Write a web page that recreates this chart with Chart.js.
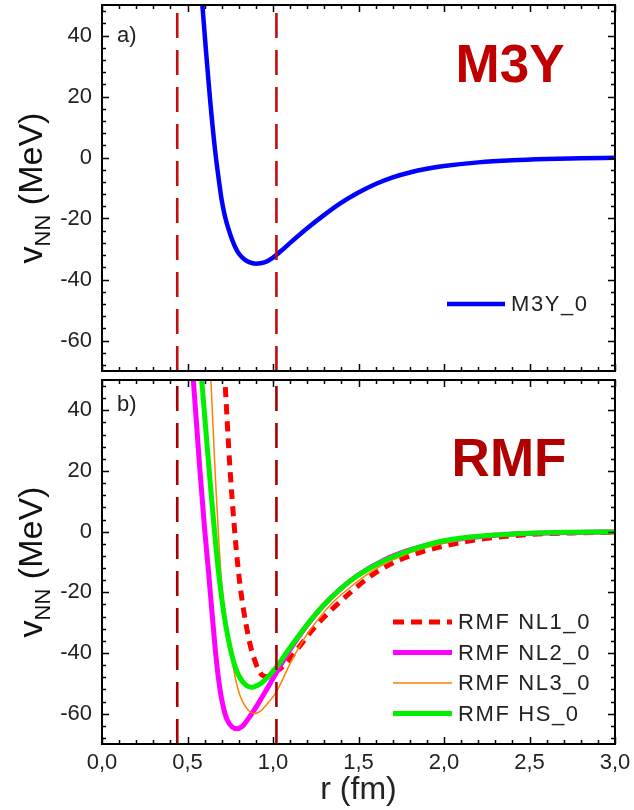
<!DOCTYPE html>
<html>
<head>
<meta charset="utf-8">
<script src="https://cdn.jsdelivr.net/npm/chart.js@4.4.1/dist/chart.umd.min.js"></script>
<style>
  body { margin: 0; background: #fff; }
  #wrap { position: relative; width: 634px; height: 810px; }
  canvas { position: absolute; left: 0; }
  #topPanel { top: 0; }
  #botPanel { top: 376px; }
</style>
</head>
<body>
<div id="wrap">
  <canvas id="topPanel" width="634" height="376" style="width:634px;height:376px"></canvas>
  <canvas id="botPanel" width="634" height="434" style="width:634px;height:434px"></canvas>
</div>
<script>
// ---------- data: NN potential v_NN(r), MeV vs fm ----------
const m3yR = [0.56, 0.589, 0.608, 0.632, 0.661, 0.686, 0.70, 0.72, 0.74, 0.76, 0.78, 0.80, 0.83, 0.86, 0.9, 0.95, 1.0, 1.05, 1.1, 1.2, 1.3, 1.4, 1.5, 1.6, 1.7, 1.8, 1.9, 2.0, 2.2, 2.4, 2.6, 2.8, 3.0];
const m3yV = [65, 48.5, 35, 19, 2.5, -8.5, -14, -19.5, -23.5, -26.8, -29.5, -31.5, -33.3, -34.3, -34.8, -34.4, -32.8, -30.5, -28, -23.2, -18.8, -14.8, -11.5, -8.7, -6.5, -4.9, -3.7, -2.8, -1.6, -0.9, -0.5, -0.25, -0.12];

const nl1R = [0.7, 0.719, 0.749, 0.797, 0.856, 0.9, 0.934, 0.97, 1.0, 1.058, 1.1, 1.247, 1.45, 1.6, 1.767, 2.0, 2.24, 2.48, 2.75, 3.0];
const nl1V = [70, 50, 20.3, -12.6, -34.6, -43.5, -47.2, -47.8, -46.8, -44.5, -41.8, -31.3, -20.2, -13.5, -8.7, -4.75, -2.3, -1.0, -0.4, -0.2];

const nl2R = [0.52, 0.534, 0.573, 0.6, 0.622, 0.65, 0.67, 0.69, 0.71, 0.73, 0.76, 0.787, 0.82, 0.86, 0.91, 0.96, 1.016, 1.1, 1.2, 1.3, 1.4, 1.5, 1.65, 1.8, 2.0, 2.25, 2.5, 2.75, 3.0];
const nl2V = [62, 50, 20, 1, -12.6, -31, -43, -52, -58, -61.8, -64.3, -65, -64.2, -61.3, -57, -52.3, -46.8, -38.8, -30.8, -24, -18.6, -14.2, -9.3, -6, -3.2, -1.4, -0.6, -0.25, -0.1];

const nl3R = [0.63, 0.637, 0.661, 0.694, 0.715, 0.739, 0.778, 0.81, 0.85, 0.89, 0.93, 0.97, 1.018, 1.1, 1.18, 1.255, 1.35, 1.45, 1.6, 1.8, 2.0, 2.25, 2.5, 2.75, 3.0];
const nl3V = [60, 50, 20.3, -12.6, -25, -34.2, -47.8, -54.5, -58.5, -60, -59, -56.5, -53, -43.5, -35.5, -29.5, -23.3, -18.4, -12.3, -7, -3.8, -1.7, -0.7, -0.25, -0.1];

const hsR = [0.57, 0.583, 0.63, 0.68, 0.71, 0.739, 0.778, 0.82, 0.875, 0.93, 1.012, 1.1, 1.2, 1.3, 1.45, 1.6, 1.8, 2.0, 2.25, 2.5, 2.75, 3.0];
const hsV = [60, 50, 18, -12.6, -26, -35.5, -44.5, -49.3, -51.3, -50, -45.2, -38.2, -30.6, -24, -16.3, -11, -6.2, -3, -1.3, -0.5, -0.2, -0.1];

// radii of the two dashed markers
const cutR = [0.44, 1.02];

const xTicks = [0, 0.5, 1, 1.5, 2, 2.5, 3];
const yTicks = [-60, -40, -20, 0, 20, 40];
const X_MIN = 0, X_MAX = 3, Y_MIN = -70, Y_MAX = 50;

const FONT = "'Liberation Sans', Arial, sans-serif";
const pts = (rs, vs) => rs.map((r, i) => ({ x: r, y: vs[i] }));
const comma = (v) => v.toFixed(1).replace(".", ",");

function curve(label, rs, vs, color, width, order, dash) {
  return {
    label, data: pts(rs, vs), borderColor: color, borderWidth: width,
    borderDash: dash || [], showLine: true, pointRadius: 0,
    cubicInterpolationMode: "monotone", order,
  };
}

function cutLines(color) {
  return cutR.map((r) => ({
    label: "", data: [{ x: r, y: Y_MIN }, { x: r, y: Y_MAX }],
    borderColor: color, borderWidth: 2.6, borderDash: [25, 12],
    showLine: true, pointRadius: 0, order: 0,
  }));
}

// ---------- plugins ----------
// closed frame with inward major/minor ticks on all four sides
const frameTicks = {
  id: "frameTicks",
  afterDatasetsDraw(chart) {
    const { ctx, chartArea: a, scales: { x, y } } = chart;
    ctx.save();
    ctx.strokeStyle = "#000";
    ctx.lineWidth = 1.5;
    ctx.beginPath();
    for (let i = 0; i <= 30; i++) {
      const px = Math.round(x.getPixelForValue(X_MIN + i * 0.1)) + 0.5;
      const len = i % 5 === 0 ? 7 : 4;
      ctx.moveTo(px, a.bottom); ctx.lineTo(px, a.bottom - len);
      ctx.moveTo(px, a.top); ctx.lineTo(px, a.top + len);
    }
    for (let v = -68; v <= 48; v += 4) {
      const py = Math.round(y.getPixelForValue(v)) + 0.5;
      const len = v % 20 === 0 ? 7 : 4;
      ctx.moveTo(a.left, py); ctx.lineTo(a.left + len, py);
      ctx.moveTo(a.right, py); ctx.lineTo(a.right - len, py);
    }
    ctx.stroke();
    ctx.lineWidth = 2;
    ctx.strokeRect(a.left, a.top, a.right - a.left, a.bottom - a.top);
    ctx.restore();
  },
};

// rotated "v_NN (MeV)" with subscript
const yTitle = {
  id: "yTitle",
  afterDraw(chart) {
    const { ctx, chartArea: a } = chart;
    const big = `34px ${FONT}`, small = `22px ${FONT}`;
    ctx.save();
    ctx.translate(42, (a.top + a.bottom) / 2);
    ctx.rotate(-Math.PI / 2);
    ctx.fillStyle = "#111";
    ctx.textBaseline = "alphabetic";
    ctx.font = big;
    const w1 = ctx.measureText("v").width;
    const w3 = ctx.measureText(" (MeV)").width;
    ctx.font = small;
    const w2 = ctx.measureText("NN").width;
    let cx = -(w1 + w2 + w3) / 2;
    ctx.font = big; ctx.fillText("v", cx, 0); cx += w1;
    ctx.font = small; ctx.fillText("NN", cx, 8); cx += w2;
    ctx.font = big; ctx.fillText(" (MeV)", cx, 0);
    ctx.restore();
  },
};

// panel tag "a)"/"b)" and the big model name
const panelText = {
  id: "panelText",
  afterDraw(chart, args, o) {
    const { ctx } = chart;
    ctx.save();
    ctx.fillStyle = "#222";
    ctx.font = `22px ${FONT}`;
    ctx.textBaseline = "middle";
    ctx.fillText(o.tag, o.tagX, o.tagY);
    ctx.fillStyle = o.color;
    ctx.font = `bold 53px ${FONT}`;
    ctx.textAlign = "center";
    ctx.textBaseline = "alphabetic";
    ctx.fillText(o.title, o.titleX, o.titleY);
    ctx.restore();
  },
};

// legend drawn inside the plot area from the dataset styles
const inLegend = {
  id: "inLegend",
  afterDraw(chart, args, o) {
    const { ctx } = chart;
    const sets = chart.data.datasets.filter((d) => d.label);
    ctx.save();
    sets.forEach((d, i) => {
      const yy = o.y + i * o.rowH;
      ctx.strokeStyle = d.borderColor;
      ctx.lineWidth = d.borderWidth;
      ctx.setLineDash(d.borderDash.length ? [11, 7] : []);
      ctx.beginPath();
      ctx.moveTo(o.x, yy); ctx.lineTo(o.x + o.lineLen, yy);
      ctx.stroke();
      ctx.setLineDash([]);
      ctx.fillStyle = "#222";
      ctx.font = `22px ${FONT}`;
      ctx.letterSpacing = "1.6px";
      ctx.textBaseline = "middle";
      ctx.fillText(d.label, o.x + o.lineLen + 6, yy + 1);
    });
    ctx.restore();
  },
};

function axes(showX) {
  return {
    x: {
      type: "linear", min: X_MIN, max: X_MAX,
      grid: { display: false, drawTicks: false }, border: { display: false },
      afterBuildTicks: (s) => { s.ticks = xTicks.map((v) => ({ value: v })); },
      ticks: { display: showX, padding: 6, color: "#222", font: { family: FONT, size: 22 }, callback: (v) => comma(v), maxRotation: 0 },
      title: showX ? { display: true, text: "r (fm)", color: "#222", font: { family: FONT, size: 32 }, padding: { top: 0, bottom: 1 } } : { display: false },
      afterFit: (s) => { s.height = showX ? 66 : 0; s.paddingLeft = 0; s.paddingRight = 0; },
    },
    y: {
      type: "linear", min: Y_MIN, max: Y_MAX,
      grid: { display: false, drawTicks: false }, border: { display: false },
      afterBuildTicks: (s) => { s.ticks = yTicks.map((v) => ({ value: v })); },
      ticks: { padding: 10, color: "#222", font: { family: FONT, size: 22 }, callback: (v) => String(v) },
      afterFit: (s) => { s.width = 102; s.paddingTop = 0; s.paddingBottom = 0; },
    },
  };
}

function makeChart(id, datasets, pad, showX, text, legend) {
  return new Chart(document.getElementById(id), {
    type: "scatter",
    data: { datasets },
    options: {
      responsive: false, animation: false,
      layout: { padding: pad },
      scales: axes(showX),
      plugins: { legend: { display: false }, tooltip: { enabled: false }, panelText: text, inLegend: legend },
    },
    plugins: [frameTicks, yTitle, panelText, inLegend],
  });
}

// a) M3Y
makeChart("topPanel",
  [curve("M3Y_0", m3yR, m3yV, "#0000FF", 4.5, 1), ...cutLines("#C40C0C")],
  { top: 5, right: 19, bottom: 5, left: 0 }, false,
  { tag: "a)", tagX: 117, tagY: 36, title: "M3Y", titleX: 510, titleY: 82, color: "#C00000" },
  { x: 447, y: 304, lineLen: 58, rowH: 30 });

// b) RMF parametrisations
makeChart("botPanel",
  [
    curve("RMF NL1_0", nl1R, nl1V, "#FF0000", 5, 4, [10, 7]),
    curve("RMF NL2_0", nl2R, nl2V, "#FF00FF", 5, 3),
    curve("RMF NL3_0", nl3R, nl3V, "#FF8000", 1.5, 2),
    curve("RMF HS_0", hsR, hsV, "#00F000", 5, 1),
    ...cutLines("#A80000"),
  ],
  { top: 4, right: 19, bottom: 0, left: 0 }, true,
  { tag: "b)", tagX: 117, tagY: 29, title: "RMF", titleX: 509, titleY: 100, color: "#B00000" },
  { x: 393, y: 246, lineLen: 59, rowH: 30.5 });
</script>
</body>
</html>
